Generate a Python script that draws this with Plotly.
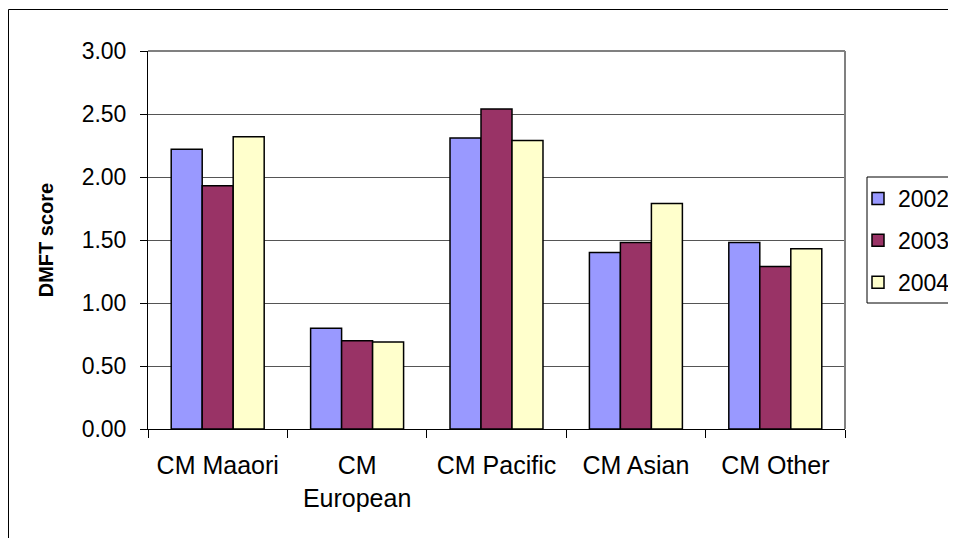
import plotly.graph_objects as go

# categories and series
categories = ['CM Maaori', 'CM European', 'CM Pacific', 'CM Asian', 'CM Other']
tick_text = ['CM Maaori', 'CM<br>European', 'CM Pacific', 'CM Asian', 'CM Other']
years = ['2002', '2003', '2004']
dmft_2002 = [2.22, 0.80, 2.31, 1.40, 1.48]
dmft_2003 = [1.93, 0.70, 2.54, 1.48, 1.29]
dmft_2004 = [2.32, 0.69, 2.29, 1.79, 1.43]
colors = ['#9999FF', '#993366', '#FFFFCC']

FONT = 'Liberation Sans, Arial, sans-serif'

fig = go.Figure()
for year, vals, col in zip(years, [dmft_2002, dmft_2003, dmft_2004], colors):
    fig.add_trace(go.Bar(
        x=categories, y=vals, name=year, legendgroup=year,
        marker=dict(color=col, line=dict(color='black', width=1.5)),
    ))

# the page body has an 8px margin, so the figure is 948x530 and
# all pixel positions below are figure pixels (page pixels - 8)
W, H = 948, 530
L, R, T, B = 140, W - 837, 43, H - 421
pw, ph = W - L - R, H - T - B

def px_x(p):
    return (p - L) / pw

def px_y(p):
    return (H - B - p) / ph

fig.update_layout(
    width=W, height=H,
    margin=dict(l=L, r=R, t=T, b=B, autoexpand=False),
    paper_bgcolor='white', plot_bgcolor='white',
    font=dict(family=FONT, size=23, color='black'),
    barmode='group', bargap=0.333, bargroupgap=0,
    showlegend=True,
    legend=dict(
        x=px_x(850), y=px_y(169), xanchor='left', yanchor='top',
        borderwidth=0, bgcolor='rgba(0,0,0,0)',
        font=dict(size=23), tracegroupgap=9,
    ),
    xaxis=dict(
        tickmode='array', tickvals=categories, ticktext=tick_text,
        tickson='boundaries', ticks='outside', ticklen=8, tickcolor='black',
        showline=True, linecolor='black', linewidth=1,
        showgrid=False, tickfont=dict(size=25), ticklabelstandoff=14,
    ),
    yaxis=dict(
        range=[0, 3], dtick=0.5, tickformat='.2f',
        ticks='outside', ticklen=7, tickcolor='black',
        showline=True, linecolor='black', linewidth=1,
        showgrid=True, gridcolor='#555555', gridwidth=1, zeroline=False,
        ticklabelstandoff=9,
        title=dict(text='<b>DMFT score</b>', font=dict(size=20), standoff=22),
    ),
    shapes=[
        # gray plot area border (top and right)
        dict(type='line', xref='paper', yref='paper', x0=0, x1=1, y0=1, y1=1,
             line=dict(color='#808080', width=2), layer='above'),
        dict(type='line', xref='paper', yref='paper', x0=1, x1=1, y0=0, y1=1,
             line=dict(color='#808080', width=2), layer='above'),
        # outer chart border
        dict(type='rect', xref='paper', yref='paper',
             x0=px_x(0.5), x1=px_x(1000), y0=px_y(600), y1=px_y(1.5),
             line=dict(color='black', width=1), layer='below'),
        # legend box, runs off the right edge like in the reference
        dict(type='rect', xref='paper', yref='paper',
             x0=px_x(859), x1=px_x(1000), y0=px_y(295), y1=px_y(169),
             line=dict(color='black', width=1), layer='below'),
    ],
)

fig.write_html('out.html')
